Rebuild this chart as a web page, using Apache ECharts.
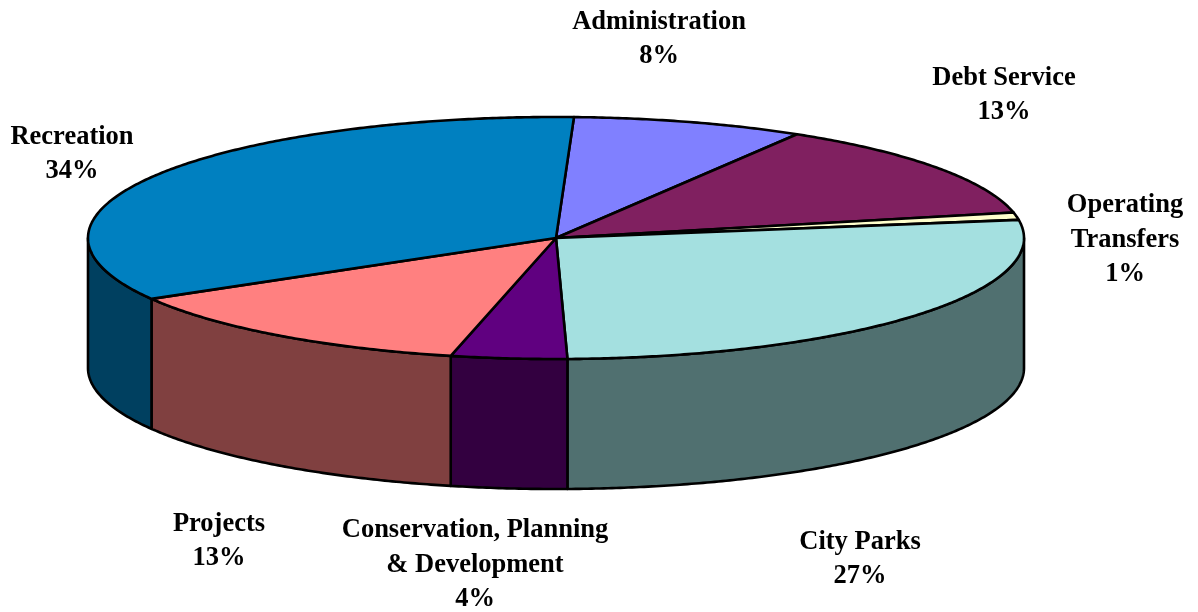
<!DOCTYPE html>
<html>
<head>
<meta charset="utf-8">
<style>html,body{margin:0;padding:0;background:#fff}#chart{width:1198px;height:612px}</style>
<script src="https://cdn.jsdelivr.net/npm/echarts@6/dist/echarts.min.js"></script>
</head>
<body>
<div id="chart"></div>
<script>
// Budget shares, in clockwise order from twelve o'clock
const categories = ['Administration', 'Debt Service', 'Operating\nTransfers', 'City Parks',
  'Conservation, Planning\n& Development', 'Projects', 'Recreation'];
const shares = [8, 13, 1, 27, 4, 13, 34];
const topColors = ['#8080FF', '#802060', '#FFFFCC', '#A4E0E0', '#600080', '#FF8080', '#0080C0'];
const wallColors = ['#404080', '#401030', '#808066', '#507070', '#330040', '#804040', '#004060'];

// Tilted disc geometry
const disc = { cx: 556, cy: 238, rx: 468, ry: 121, depth: 130, startDeg: 2.2 };
// Where each caption sits (centre of its text block)
const captionAnchors = [[659, 39], [1004, 95], [1125, 240], [860, 559], [475, 565], [219, 541], [72, 154]];

const total = shares.reduce((a, b) => a + b, 0);

function rimPoint(deg, drop) {
  const t = deg * Math.PI / 180;
  return [disc.cx + disc.rx * Math.sin(t), disc.cy - disc.ry * Math.cos(t) + (drop || 0)];
}

function arcPoints(from, to, drop) {
  const pts = [];
  const n = Math.max(2, Math.ceil((to - from) * 2));
  for (let i = 0; i <= n; i++) pts.push(rimPoint(from + (to - from) * i / n, drop));
  return pts;
}

// The wall is only seen on the near half of the rim (90° to 270° clockwise from the top)
function wallPolygon(from, to) {
  const a = Math.max(from, 90), b = Math.min(to, 270);
  if (b <= a) return null;
  return arcPoints(a, b, 0).concat(arcPoints(a, b, disc.depth).reverse());
}

function renderSlice(params, api) {
  const i = params.dataIndex;
  const before = shares.slice(0, i).reduce((a, b) => a + b, 0);
  const from = disc.startDeg + before / total * 360;
  const to = disc.startDeg + (before + api.value(1)) / total * 360;
  const line = { stroke: '#000', lineWidth: 2.6, lineJoin: 'round' };
  const children = [];
  const wall = wallPolygon(from, to);
  if (wall) children.push({ type: 'polygon', z2: 1, shape: { points: wall }, style: { fill: wallColors[i], ...line } });
  children.push({
    type: 'polygon', z2: 2,
    shape: { points: [[disc.cx, disc.cy]].concat(arcPoints(from, to, 0)) },
    style: { fill: topColors[i], ...line }
  });
  children.push({
    type: 'text', z2: 3,
    style: {
      text: categories[i] + '\n' + api.value(1) + '%',
      x: captionAnchors[i][0], y: captionAnchors[i][1],
      align: 'center', verticalAlign: 'middle',
      font: 'bold 26.5px "Liberation Serif"', lineHeight: 34.5, fill: '#000'
    }
  });
  return { type: 'group', children };
}

const chart = echarts.init(document.getElementById('chart'), null, { renderer: 'canvas' });
chart.setOption({
  animation: false,
  backgroundColor: '#fff',
  series: [{
    type: 'custom',
    coordinateSystem: 'none',
    renderItem: renderSlice,
    data: shares.map((v, i) => [i, v])
  }]
});
</script>
</body>
</html>
